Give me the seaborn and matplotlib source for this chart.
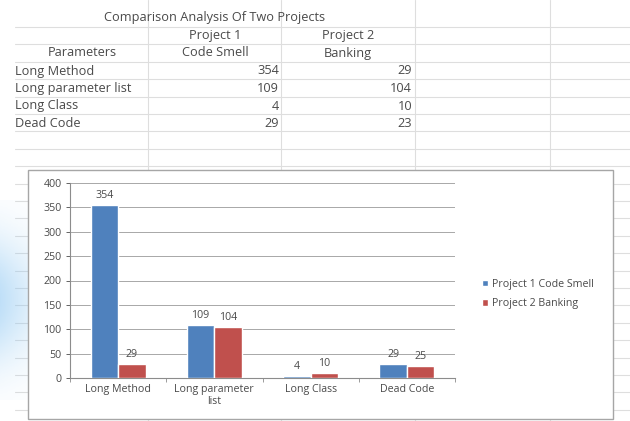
import numpy as np
import pandas as pd
import matplotlib
matplotlib.use("Agg")
import matplotlib.pyplot as plt
from matplotlib.patches import Rectangle, Patch
import seaborn as sns

# ---- data ----
parameters = ["Long Method", "Long parameter list", "Long Class", "Dead Code"]
axis_labels = ["Long Method", "Long parameter\nlist", "Long Class", "Dead Code"]
project1_values = [354, 109, 4, 29]
project2_table_values = [29, 104, 10, 23]
project2_chart_values = [29, 104, 10, 25]
series_names = ["Project 1 Code Smell", "Project 2 Banking"]
y_ticks = [0, 50, 100, 150, 200, 250, 300, 350, 400]

sns.set_theme(style="white")
plt.rcParams["font.family"] = ["Open Sans", "DejaVu Sans"]

W, H = 630, 421
fig = plt.figure(figsize=(W / 100, H / 100), dpi=100)

# ---- spreadsheet background ----
bg = fig.add_axes([0, 0, 1, 1])
bg.set_xlim(0, W)
bg.set_ylim(H, 0)
bg.axis("off")
grid_c = "#dedede"
for y in np.arange(27, H, 17.4):
    bg.plot([15, W], [y, y], color=grid_c, lw=0.8, zorder=1)
for x in [148, 281, 415, 550]:
    bg.plot([x, x], [0, H], color=grid_c, lw=0.8, zorder=1)

# faint blue watermark on the left
grad = np.linspace(1, 0, 50)[None, :] * np.ones((60, 1))
vert = np.exp(-((np.linspace(-1, 1, 60)) ** 2) * 2.5)[:, None]
alpha = grad * vert * 0.55
img = np.zeros((60, 50, 4))
img[..., 0] = 0.55
img[..., 1] = 0.78
img[..., 2] = 0.95
img[..., 3] = alpha
bg.imshow(img, extent=(0, 60, 400, 200), aspect="auto", zorder=2)

txt_c = "#4a4a4a"
fs = 9.2
bg.text(215, 18, "Comparison Analysis Of Two Projects", ha="center", va="center", fontsize=fs, color=txt_c)
bg.text(215, 35.5, "Project 1", ha="center", va="center", fontsize=fs, color=txt_c)
bg.text(348, 35.5, "Project 2", ha="center", va="center", fontsize=fs, color=txt_c)
bg.text(82, 53, "Parameters", ha="center", va="center", fontsize=fs, color=txt_c)
bg.text(215, 53, "Code Smell", ha="center", va="center", fontsize=fs, color=txt_c)
bg.text(348, 53, "Banking", ha="center", va="center", fontsize=fs, color=txt_c)
row_y = [71, 88.5, 106, 123.5]
for yy, p, v1, v2 in zip(row_y, parameters, project1_values, project2_table_values):
    bg.text(15, yy, p, ha="left", va="center", fontsize=fs, color=txt_c)
    bg.text(279, yy, str(v1), ha="right", va="center", fontsize=fs, color=txt_c)
    bg.text(412, yy, str(v2), ha="right", va="center", fontsize=fs, color=txt_c)

# chart box
bg.add_patch(Rectangle((28, 170), 585, 249, facecolor="white", edgecolor="#a6a6a6", lw=1.0, zorder=3))

# ---- chart ----
ax = fig.add_axes([70 / W, (H - 378) / H, 385 / W, 195 / H])
df = pd.DataFrame({
    "Parameter": axis_labels * 2,
    "Value": project1_values + project2_chart_values,
    "Series": [series_names[0]] * 4 + [series_names[1]] * 4,
})
colors = ["#4F81BD", "#C0504D"]
sns.barplot(data=df, x="Parameter", y="Value", hue="Series", palette=colors,
            width=0.57, ax=ax, legend=False, saturation=1, zorder=3)
ax.set_ylim(0, 400)
ax.set_yticks(y_ticks)
ax.set_xlim(-0.5, 3.5)
ax.yaxis.grid(True, color="#a8a8a8", lw=0.7, zorder=0)
ax.set_axisbelow(True)
ax.set_xlabel("")
ax.set_ylabel("")
for s in ["top", "right"]:
    ax.spines[s].set_visible(False)
for s in ["left", "bottom"]:
    ax.spines[s].set_color("#8c8c8c")
    ax.spines[s].set_linewidth(0.8)
cfs = 7.7
ax.tick_params(axis="y", labelsize=cfs, colors="#4a4a4a", length=3, width=0.6, left=True, pad=3)
ax.tick_params(axis="x", labelsize=cfs, colors="#4a4a4a", length=0, pad=4)
ax.set_xticks([-0.5, 0.5, 1.5, 2.5, 3.5], minor=True)
ax.tick_params(axis="x", which="minor", length=3, width=0.6, color="#8c8c8c", bottom=True)
for c in ax.containers:
    ax.bar_label(c, fmt="%d", fontsize=cfs, color="#4a4a4a", padding=3)

# legend
handles = [Patch(facecolor=colors[0]), Patch(facecolor=colors[1])]
fig.legend(handles, series_names, loc="center left",
           bbox_to_anchor=(472 / W, 1 - 294 / H), frameon=False,
           fontsize=cfs, handlelength=0.6, handleheight=0.6, handletextpad=0.4,
           labelspacing=0.8, labelcolor="#4a4a4a")

fig.savefig("out.png", dpi=100)
